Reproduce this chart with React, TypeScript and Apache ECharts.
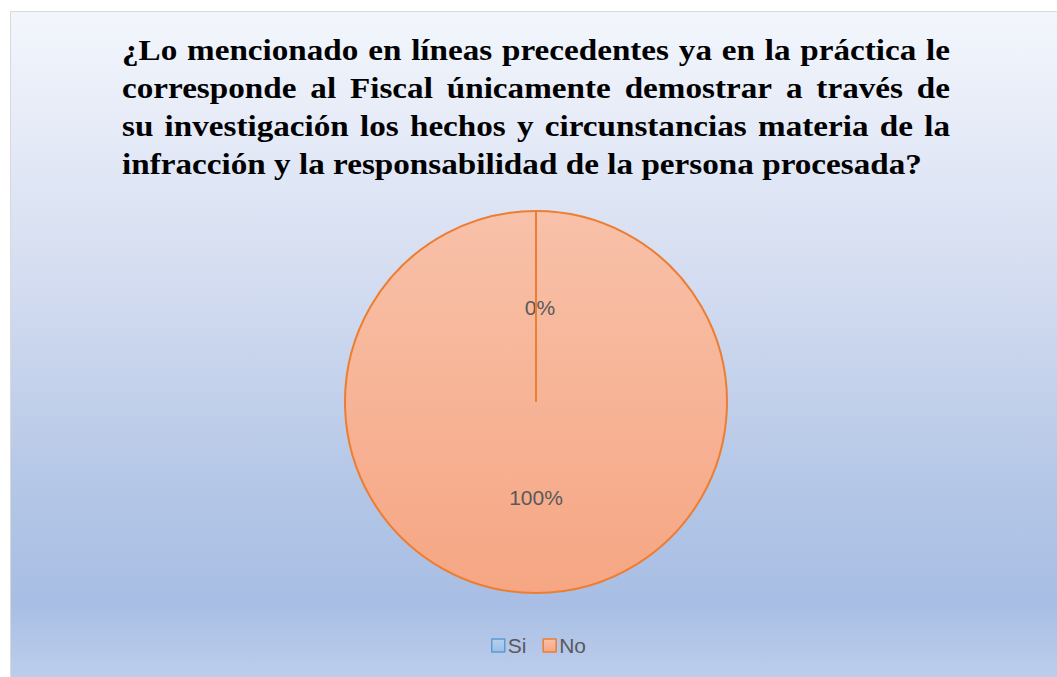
import React, { useEffect, useRef } from "react";
import * as echarts from "echarts";

const titleLines = [
  "¿Lo mencionado en líneas precedentes ya en la práctica le",
  "corresponde al Fiscal únicamente demostrar a través de",
  "su investigación los hechos y circunstancias materia de la",
  "infracción y la responsabilidad de la persona procesada?",
];
const categories = ["Si", "No"];
const values = [0, 100];

const W = 1057;
const H = 677;
const CX = 536;
const CY = 402;
const R = 191;

export default function App() {
  const ref = useRef<HTMLDivElement>(null);
  useEffect(() => {
    if (!ref.current) return;
    const chart = echarts.init(ref.current, null, { renderer: "svg", width: W, height: H });
    const font = "'Liberation Serif', 'Times New Roman', serif";
    const fs = 30;
    const fontStr = `bold ${fs}px ${font}`;
    const measure = (t: string) => (echarts as any).format.getTextRect(t, fontStr).width;
    const left = 122;
    const right = 950;
    const lastRight = 922;
    const sx = (lastRight - left) / measure(titleLines[titleLines.length - 1]);
    const titleGraphics: any[] = [];
    titleLines.forEach((line, i) => {
      const y = 50 + i * 38;
      const words = line.split(" ");
      const last = i === titleLines.length - 1;
      const widths = words.map((w) => measure(w) * sx);
      const total = widths.reduce((a, b) => a + b, 0);
      const gap = last
        ? measure(" ") * sx
        : (right - left - total) / (words.length - 1);
      let x = left;
      words.forEach((w, k) => {
        titleGraphics.push({
          type: "text",
          x,
          y,
          scaleX: sx,
          style: { text: w, font: fontStr, fill: "#000", textVerticalAlign: "middle" },
        });
        x += widths[k] + gap;
      });
    });

    const colors = [
      { fill: new echarts.graphic.LinearGradient(0, 0, 0, 1, [
          { offset: 0, color: "#b7d0ee" },
          { offset: 1, color: "#9cbfe6" },
        ]), border: "#5b9bd5" },
      { fill: new echarts.graphic.LinearGradient(0, 0, 0, 1, [
          { offset: 0, color: "#f8c1a9" },
          { offset: 1, color: "#f6a683" },
        ]), border: "#ed7d31" },
    ];
    const labelFont = "'Liberation Sans', Arial, sans-serif";

    chart.setOption({
      animation: false,
      graphic: [
        {
          type: "rect",
          z: -10,
          shape: { x: 10.5, y: 11.5, width: W + 10, height: H + 10 },
          style: {
            fill: new echarts.graphic.LinearGradient(0, 0, 0, 1, [
              { offset: 0, color: "#f3f6fc" },
              { offset: 0.4, color: "#d3dcf0" },
              { offset: 0.7, color: "#b3c6e6" },
              { offset: 0.86, color: "#a8bee4" },
              { offset: 1, color: "#c3d2ee" },
            ]),
            stroke: "#d9d9d9",
            lineWidth: 1,
          },
          silent: true,
        },
        // border of the zero-size "Si" slice (radial edge at the start angle)
        {
          type: "line",
          z: 100,
          shape: { x1: CX, y1: CY, x2: CX, y2: CY - R },
          style: { stroke: "#ed7d31", lineWidth: 2 },
          silent: true,
        },
        ...titleGraphics,
      ],
      legend: {
        top: 630,
        left: 486,
        itemWidth: 13,
        itemHeight: 13,
        itemGap: 16,
        icon: "rect",
        textStyle: { fontFamily: labelFont, fontSize: 21, color: "#595959", padding: [0, 0, 0, -2] },
        data: categories.map((c, i) => ({
          name: c,
          itemStyle: { color: colors[i].fill, borderColor: colors[i].border, borderWidth: 1.5 },
        })),
      },
      series: [
        {
          type: "pie",
          z: 50,
          center: [CX, CY],
          radius: [0, R],
          startAngle: 90,
          clockwise: true,
          avoidLabelOverlap: false,
          label: {
            show: true,
            position: "inside",
            formatter: (p: any) => `${Math.round(p.percent)}%`,
            fontFamily: labelFont,
            fontSize: 21,
            color: "#595959",
          },
          labelLine: { show: false },
          emphasis: { disabled: true },
          data: categories.map((c, i) => ({
            name: c,
            value: values[i],
            itemStyle: { color: colors[i].fill, borderColor: "#ed7d31", borderWidth: 2 },
            label: i === 0 ? { offset: [4, 4] } : { offset: [0, -3] },
          })),
        },
      ],
    });
    return () => chart.dispose();
  }, []);
  return <div ref={ref} style={{ position: "fixed", left: 0, top: 0, width: W, height: H, background: "#fff" }} />;
}
